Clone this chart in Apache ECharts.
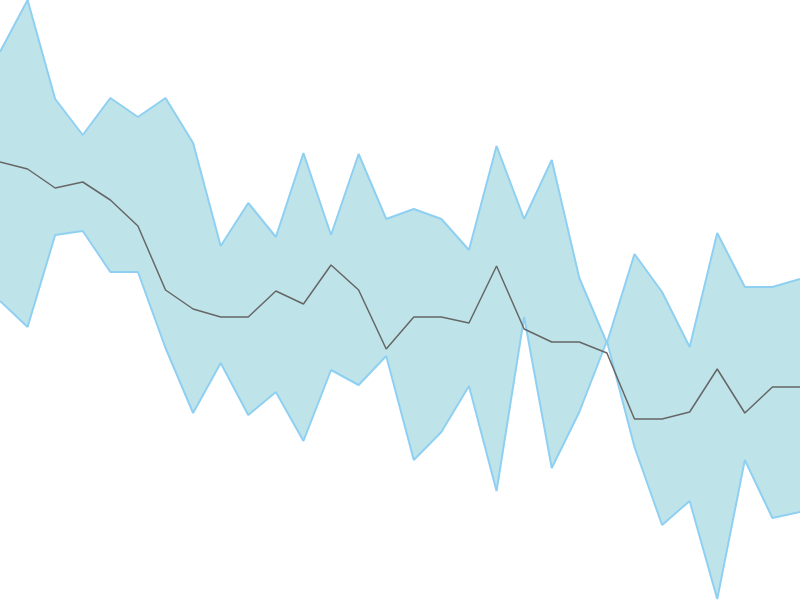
<!DOCTYPE html>
<html>
<head>
<meta charset="utf-8">
<script src="https://cdn.jsdelivr.net/npm/echarts@6/dist/echarts.min.js"></script>
<style>
  html, body { margin: 0; padding: 0; background: #fff; }
  #chart { width: 800px; height: 600px; }
</style>
</head>
<body>
<div id="chart"></div>
<script>
// 30 steps, values
var days = [];
for (var i = 1; i <= 30; i++) days.push('D' + i);

var upper = [548, 600, 501, 465, 502, 483, 502, 457, 354, 397, 363, 447, 365, 446, 381,
             391, 381, 350, 454, 381, 440, 322, 257, 346, 308, 253, 367, 313, 313, 321];
var lower = [299, 273, 365, 369, 328, 328, 252, 187, 237, 185, 208, 159, 230, 215, 244,
             140, 168, 214, 109, 283, 132, 188, 259, 153, 75, 99, 1, 140, 82, 88];
var middle = [438, 431, 412, 418, 400, 374, 310, 291, 283, 283, 309, 296, 335, 310, 251,
              283, 283, 277, 334, 271, 258, 258, 247, 181, 181, 188, 231, 187, 213, 213];

// band height for the stacked fill
var spread = upper.map(function (v, i) { return v - lower[i]; });

var edgeColor = '#8fd0f2';
var fillColor = '#bee4e9';

var myChart = echarts.init(document.getElementById('chart'));
var option = {
    animation: false,
    grid: { left: 0, right: 0, top: 0, bottom: 0 },
    xAxis: { type: 'category', data: days, boundaryGap: false, show: false },
    yAxis: { type: 'value', min: 0, max: 600, show: false, splitLine: { show: false } },
    series: [
        {
            name: 'base', type: 'line', data: lower, stack: 'band', stackStrategy: 'all',
            symbol: 'none', lineStyle: { opacity: 0 }, silent: true
        },
        {
            name: 'band', type: 'line', data: spread, stack: 'band', stackStrategy: 'all',
            symbol: 'none', lineStyle: { opacity: 0 },
            areaStyle: { color: fillColor, opacity: 1 }, silent: true
        },
        {
            name: 'upper', type: 'line', data: upper, symbol: 'none',
            lineStyle: { color: edgeColor, width: 2 }
        },
        {
            name: 'lower', type: 'line', data: lower, symbol: 'none',
            lineStyle: { color: edgeColor, width: 2 }
        },
        {
            name: 'middle', type: 'line', data: middle, symbol: 'none',
            lineStyle: { color: '#666666', width: 1.5 }
        }
    ]
};
myChart.setOption(option);
</script>
</body>
</html>
